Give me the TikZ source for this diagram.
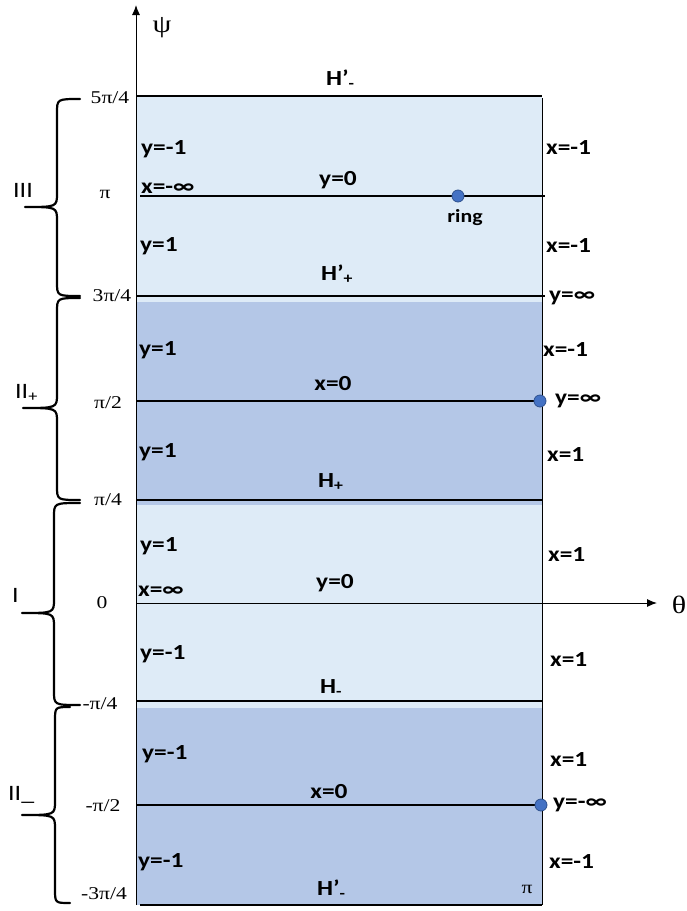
\documentclass[tikz,border=0pt]{standalone}
\usepackage{fontspec}
\newfontfamily\labfont[FakeStretch=1.18]{Carlito}
\newfontfamily\tickfont[FakeStretch=1.2]{Liberation Serif}
\usetikzlibrary{arrows.meta}
\definecolor{lightband}{RGB}{222,235,247}
\definecolor{darkband}{RGB}{180,199,231}
\definecolor{dotfill}{RGB}{68,114,196}
\definecolor{dotline}{RGB}{47,82,143}
\newcommand\bracepath[6]{\draw[brace] (#6,#1) .. controls (#4,#1) .. (#4,#1+14) -- (#4,#2-14) .. controls (#4,#2) .. (#5,#2) .. controls (#4,#2) .. (#4,#2+14) -- (#4,#3-14) .. controls (#4,#3) .. (#6,#3);}
\begin{document}
\begin{tikzpicture}[x=1pt,y=-1pt,
  lab/.style={font=\labfont\bfseries\fontsize{21.5}{25}\selectfont, inner sep=0pt},
  ringlab/.style={font=\labfont\bfseries\fontsize{18.5}{22}\selectfont, inner sep=0pt},
  tick/.style={font=\tickfont\fontsize{18}{21}\selectfont, inner sep=0pt},
  axlab/.style={font=\tickfont\fontsize{25}{28}\selectfont, inner sep=0pt},
  region/.style={font=\labfont\fontsize{22}{26}\selectfont, inner sep=0pt},
  level/.style={line width=1.8pt},
  thinlevel/.style={line width=1.3pt},
  brace/.style={line width=2.2pt, line cap=round, line join=round},
  dot/.style={circle, fill=dotfill, draw=dotline, line width=0.8pt, minimum size=12pt, inner sep=0pt},
  axis/.style={line width=1pt, -{Latex[length=10pt,width=8pt]}}]
\useasboundingbox (0,0) rectangle (686,911);
% bands
\fill[lightband] (137,96) rectangle (542,905);
\fill[darkband] (137,302) rectangle (542,505);
\fill[darkband] (137,708) rectangle (542,905);
% coordinates
\coordinate (L1) at (136,96);  \coordinate (R1) at (542,96);
\coordinate (L2) at (140,196); \coordinate (R2) at (545,196);
\coordinate (L3) at (136,296); \coordinate (R3) at (545,296);
\coordinate (L4) at (136,401); \coordinate (R4) at (540,401);
\coordinate (L5) at (136,500); \coordinate (R5) at (543,500);
\coordinate (L6) at (136,603); \coordinate (R6) at (657,603);
\coordinate (L7) at (136,701); \coordinate (R7) at (542,701);
\coordinate (L8) at (136,805); \coordinate (R8) at (540,805);
\coordinate (L9) at (140,905); \coordinate (R9) at (542,905);
\coordinate (ybot) at (136,905); \coordinate (ytop) at (136,5);
\coordinate (rtop) at (542,98); \coordinate (rbot) at (542,905);
% lines
\draw[level] (L1) -- (R1);
\draw[thinlevel] (L2) -- (R2);
\draw[level] (L3) -- (R3);
\draw[level] (L4) -- (R4);
\draw[thinlevel] (L5) -- (R5);
\draw[thinlevel] (L7) -- (R7);
\draw[thinlevel] (L8) -- (R8);
\draw[thinlevel] (L9) -- (R9);
\draw[line width=1pt] (rtop) -- (rbot);
\draw[axis] (ybot) -- (ytop);
\draw[axis] (L6) -- (R6);
% dots
\node[dot] (ring) at (458,196) {};
\node[dot] (pinf) at (540,401) {};
\node[dot] (minf) at (541,805) {};
% axis labels
\node[axlab] (psi) at (162,28) {ψ};
\node[axlab] (theta) at (679,605) {θ};
% ticks
\node[tick] (t1) at (110,98) {5π/4};
\node[tick] (t2) at (105,194) {π};
\node[tick] (t3) at (112,296) {3π/4};
\node[tick] (t4) at (108,403) {π/2};
\node[tick] (t5) at (108,500) {π/4};
\node[tick] (t6) at (102,603) {0};
\node[tick] (t7) at (100,704) {-π/4};
\node[tick] (t8) at (103,806) {-π/2};
\node[tick] (t9) at (104,894) {-3π/4};
\node[tick] (tpi) at (527,889) {π};
% braces
\bracepath{99}{207}{296}{57}{25}{80}
\bracepath{298}{408}{500}{57}{23}{80}
\bracepath{503}{613}{705}{54}{22}{80}
\bracepath{707}{815}{903}{55}{22}{70}
\node[region, anchor=base west] (rIII) at (13,197) {III};
\node[region, anchor=base west] (rIIp) at (15,398) {II\textsubscript{+}};
\node[region, anchor=base west] (rI) at (12,602) {I};
\node[region, anchor=base west] (rIIm) at (8,800) {II\_};
% left labels
\node[lab, anchor=west] (a1) at (141,149) {y=-1};
\node[lab, anchor=west] (a2) at (141,188) {x=-∞};
\node[lab, anchor=west] (a3) at (140,246) {y=1};
\node[lab, anchor=west] (a4) at (139,350) {y=1};
\node[lab, anchor=west] (a5) at (139,452) {y=1};
\node[lab, anchor=west] (a6) at (140,546) {y=1};
\node[lab, anchor=west] (a7) at (138,591) {x=∞};
\node[lab, anchor=west] (a8) at (140,654) {y=-1};
\node[lab, anchor=west] (a9) at (142,754) {y=-1};
\node[lab, anchor=west] (a10) at (138,862) {y=-1};
% centre labels
\node[lab, anchor=base west] (h1) at (326,85) {H’\textsubscript{-}};
\node[lab] (c1) at (338,180) {y=0};
\node[ringlab] (ringlab) at (465,218) {ring};
\node[lab, anchor=base west] (h2) at (321,280) {H’\textsubscript{+}};
\node[lab] (c2) at (333,384) {x=0};
\node[lab, anchor=base west] (h3) at (318,487) {H\textsubscript{+}};
\node[lab] (c3) at (335,583) {y=0};
\node[lab, anchor=base west] (h4) at (320,693) {H\textsubscript{-}};
\node[lab] (c4) at (329,792) {x=0};
\node[lab, anchor=base west] (h5) at (317,895) {H’\textsubscript{-}};
% right labels
\node[lab, anchor=west] (b1) at (546,148) {x=-1};
\node[lab, anchor=west] (b2) at (546,246) {x=-1};
\node[lab, anchor=west] (b3) at (549,298) {y=∞};
\node[lab, anchor=west] (b4) at (543,350) {x=-1};
\node[lab, anchor=west] (b5) at (555,401) {y=∞};
\node[lab, anchor=west] (b6) at (547,455) {x=1};
\node[lab, anchor=west] (b7) at (548,555) {x=1};
\node[lab, anchor=west] (b8) at (550,660) {x=1};
\node[lab, anchor=west] (b9) at (550,760) {x=1};
\node[lab, anchor=west] (b10) at (553,805) {y=-∞};
\node[lab, anchor=west] (b11) at (549,862) {x=-1};
\end{tikzpicture}
\end{document}
